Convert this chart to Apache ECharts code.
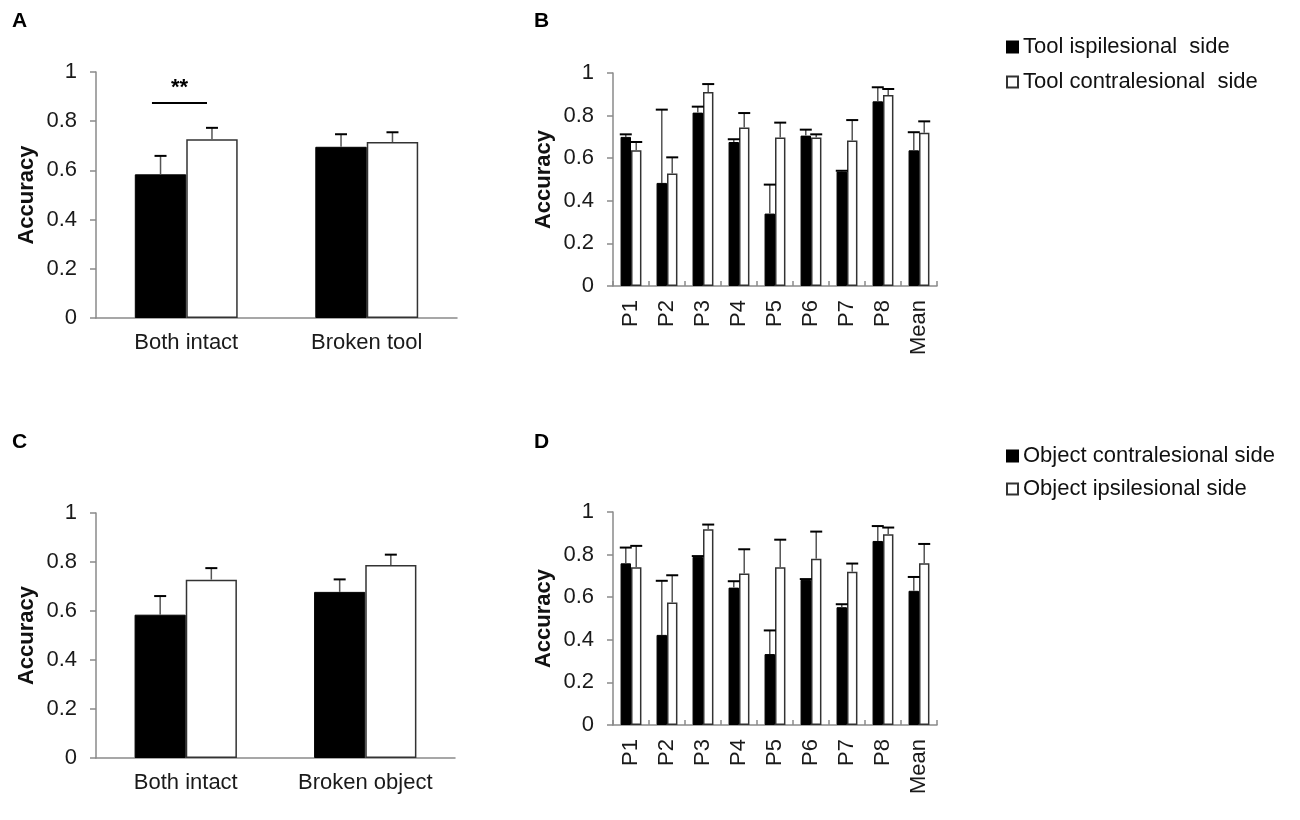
<!DOCTYPE html>
<html>
<head>
<meta charset="utf-8">
<script src="https://cdn.jsdelivr.net/npm/echarts@6/dist/echarts.min.js"></script>
<style>
  html, body { margin: 0; padding: 0; background: #fff; }
  #main { width: 1300px; height: 820px; }
</style>
</head>
<body>
<div id="main"></div>
<script>
// panel A / C categories and values
const catsA = ['Both intact', 'Broken tool'];
const catsC = ['Both intact', 'Broken object'];
const aBlack = [0.584, 0.696];
const aBlackSe = [0.075, 0.051];
const aWhite = [0.727, 0.715];
const aWhiteSe = [0.046, 0.040];
const cBlack = [0.585, 0.678];
const cBlackSe = [0.076, 0.051];
const cWhite = [0.728, 0.788];
const cWhiteSe = [0.047, 0.042];

// panel B / D: per patient
const patients = ['P1', 'P2', 'P3', 'P4', 'P5', 'P6', 'P7', 'P8', 'Mean'];
const bBlack = [0.700, 0.484, 0.814, 0.676, 0.340, 0.706, 0.537, 0.867, 0.637];
const bBlackSe = [0.012, 0.344, 0.028, 0.013, 0.136, 0.028, 0.004, 0.066, 0.085];
const bWhite = [0.637, 0.528, 0.911, 0.744, 0.697, 0.697, 0.683, 0.897, 0.720];
const bWhiteSe = [0.039, 0.076, 0.037, 0.068, 0.070, 0.015, 0.096, 0.028, 0.053];
const dBlack = [0.759, 0.423, 0.789, 0.645, 0.333, 0.681, 0.553, 0.864, 0.630];
const dBlackSe = [0.074, 0.254, 0.004, 0.030, 0.111, 0.004, 0.014, 0.070, 0.065];
const dWhite = [0.741, 0.575, 0.919, 0.711, 0.741, 0.780, 0.719, 0.895, 0.759];
const dWhiteSe = [0.100, 0.128, 0.022, 0.114, 0.129, 0.128, 0.039, 0.032, 0.091];

const namesB = ['Tool ispilesional  side', 'Tool contralesional  side'];
const namesD = ['Object contralesional side', 'Object ipsilesional side'];

// significance bracket in panel A: [category index, level]
const sigMark = [0, 0.874];

const FONT = "'Liberation Sans', Arial, sans-serif";
const AXIS_GREY = '#8a8a8a';

function barPair(gi, names, blk, wht, gap) {
    return [
        {
            name: names[0], type: 'bar', xAxisIndex: gi, yAxisIndex: gi,
            data: blk, barGap: 0, barCategoryGap: gap,
            itemStyle: { color: '#000', borderColor: '#000', borderWidth: 1 },
            emphasis: { disabled: true }
        },
        {
            name: names[1], type: 'bar', xAxisIndex: gi, yAxisIndex: gi,
            data: wht, barGap: 0, barCategoryGap: gap,
            itemStyle: { color: '#fff', borderColor: '#333', borderWidth: 1.5 },
            emphasis: { disabled: true }
        }
    ];
}

function errSeries(gi, vals, se, side, gap) {
    const frac = 1 - parseFloat(gap) / 100;
    return {
        type: 'custom', xAxisIndex: gi, yAxisIndex: gi, z: 5,
        silent: true,
        data: vals.map((v, i) => [i, v, se[i]]),
        encode: { x: 0, y: 1 },
        renderItem: function (params, api) {
            const i = api.value(0), v = api.value(1), e = api.value(2);
            const band = api.size([1, 0])[0];
            const bw = band * frac / 2;
            const base = api.coord([i, v]);
            const x = base[0] + side * bw / 2;
            const top = api.coord([i, v + e])[1];
            return {
                type: 'group',
                children: [
                    { type: 'line', shape: { x1: x, y1: base[1], x2: x, y2: top },
                      style: { stroke: '#555', lineWidth: 1.5 } },
                    { type: 'line', shape: { x1: x - 6, y1: top, x2: x + 6, y2: top },
                      style: { stroke: '#000', lineWidth: 2 } }
                ]
            };
        }
    };
}

function yAxis(gi) {
    return {
        gridIndex: gi, type: 'value', min: 0, max: 1, interval: 0.2,
        name: 'Accuracy', nameLocation: 'middle', nameGap: 58,
        nameTextStyle: { fontFamily: FONT, fontSize: 22, fontWeight: 'bold', color: '#111' },
        axisLine: { show: true, lineStyle: { color: AXIS_GREY, width: 1.5 } },
        axisTick: { show: true, length: 6, lineStyle: { color: AXIS_GREY, width: 1.5 } },
        axisLabel: { fontFamily: FONT, fontSize: 22, color: '#1a1a1a', margin: 19 },
        splitLine: { show: false }
    };
}

function xAxis(gi, cats, rotated) {
    return {
        gridIndex: gi, type: 'category', data: cats,
        axisLine: { lineStyle: { color: AXIS_GREY, width: 1.5 } },
        axisTick: rotated
            ? { show: true, inside: true, length: 5, lineStyle: { color: AXIS_GREY, width: 1.5 } }
            : { show: false },
        axisLabel: {
            fontFamily: FONT, fontSize: 22, color: '#1a1a1a',
            rotate: rotated ? 90 : 0, margin: 14, interval: 0
        }
    };
}

const panelLetter = (txt, left, top) => ({
    text: txt, left: left, top: top,
    textStyle: { fontFamily: FONT, fontSize: 21, fontWeight: 'bold', color: '#000' }
});

const legendBox = (names, top, gap) => ({
    data: names, orient: 'vertical', left: 1001, top: top,
    itemWidth: 11, itemHeight: 11, itemGap: gap, icon: 'rect',
    selectedMode: false,
    textStyle: { fontFamily: FONT, fontSize: 22, color: '#111' }
});

const gapAC = '43%';
const gapBD = '42%';

const sigSeries = {
    type: 'custom', xAxisIndex: 0, yAxisIndex: 0, z: 6, silent: true,
    data: [sigMark],
    encode: { x: 0, y: 1 },
    renderItem: function (params, api) {
        const p = api.coord([api.value(0), api.value(1)]);
        const band = api.size([1, 0])[0];
        const x1 = p[0] - 0.19 * band, x2 = p[0] + 0.115 * band;
        return {
            type: 'group',
            children: [
                { type: 'line', shape: { x1: x1, y1: p[1], x2: x2, y2: p[1] },
                  style: { stroke: '#000', lineWidth: 2 } },
                { type: 'text', x: (x1 + x2) / 2, y: p[1] - 4,
                  style: { text: '**', fontFamily: FONT, fontSize: 22, fontWeight: 'bold',
                           fill: '#000', align: 'center', verticalAlign: 'bottom' } }
            ]
        };
    }
};

const option = {
    backgroundColor: '#fff',
    animation: false,
    title: [
        panelLetter('A', 7, 6),
        panelLetter('B', 529, 6),
        panelLetter('C', 7, 427),
        panelLetter('D', 529, 427)
    ],
    legend: [
        legendBox(namesB, 31, 13),
        legendBox(namesD, 440, 11)
    ],
    grid: [
        { left: 96, top: 72, width: 361, height: 246 },
        { left: 613, top: 73, width: 324, height: 213 },
        { left: 96, top: 513, width: 359, height: 245 },
        { left: 613, top: 512, width: 324, height: 213 }
    ],
    xAxis: [
        xAxis(0, catsA, false),
        xAxis(1, patients, true),
        xAxis(2, catsC, false),
        xAxis(3, patients, true)
    ],
    yAxis: [yAxis(0), yAxis(1), yAxis(2), yAxis(3)],
    series: [].concat(
        barPair(0, ['A black', 'A white'], aBlack, aWhite, gapAC),
        barPair(1, namesB, bBlack, bWhite, gapBD),
        barPair(2, ['C black', 'C white'], cBlack, cWhite, gapAC),
        barPair(3, namesD, dBlack, dWhite, gapBD),
        [
            errSeries(0, aBlack, aBlackSe, -1, gapAC),
            errSeries(0, aWhite, aWhiteSe, 1, gapAC),
            errSeries(1, bBlack, bBlackSe, -1, gapBD),
            errSeries(1, bWhite, bWhiteSe, 1, gapBD),
            errSeries(2, cBlack, cBlackSe, -1, gapAC),
            errSeries(2, cWhite, cWhiteSe, 1, gapAC),
            errSeries(3, dBlack, dBlackSe, -1, gapBD),
            errSeries(3, dWhite, dWhiteSe, 1, gapBD),
            sigSeries
        ]
    )
};

const chart = echarts.init(document.getElementById('main'));
chart.setOption(option);
</script>
</body>
</html>
